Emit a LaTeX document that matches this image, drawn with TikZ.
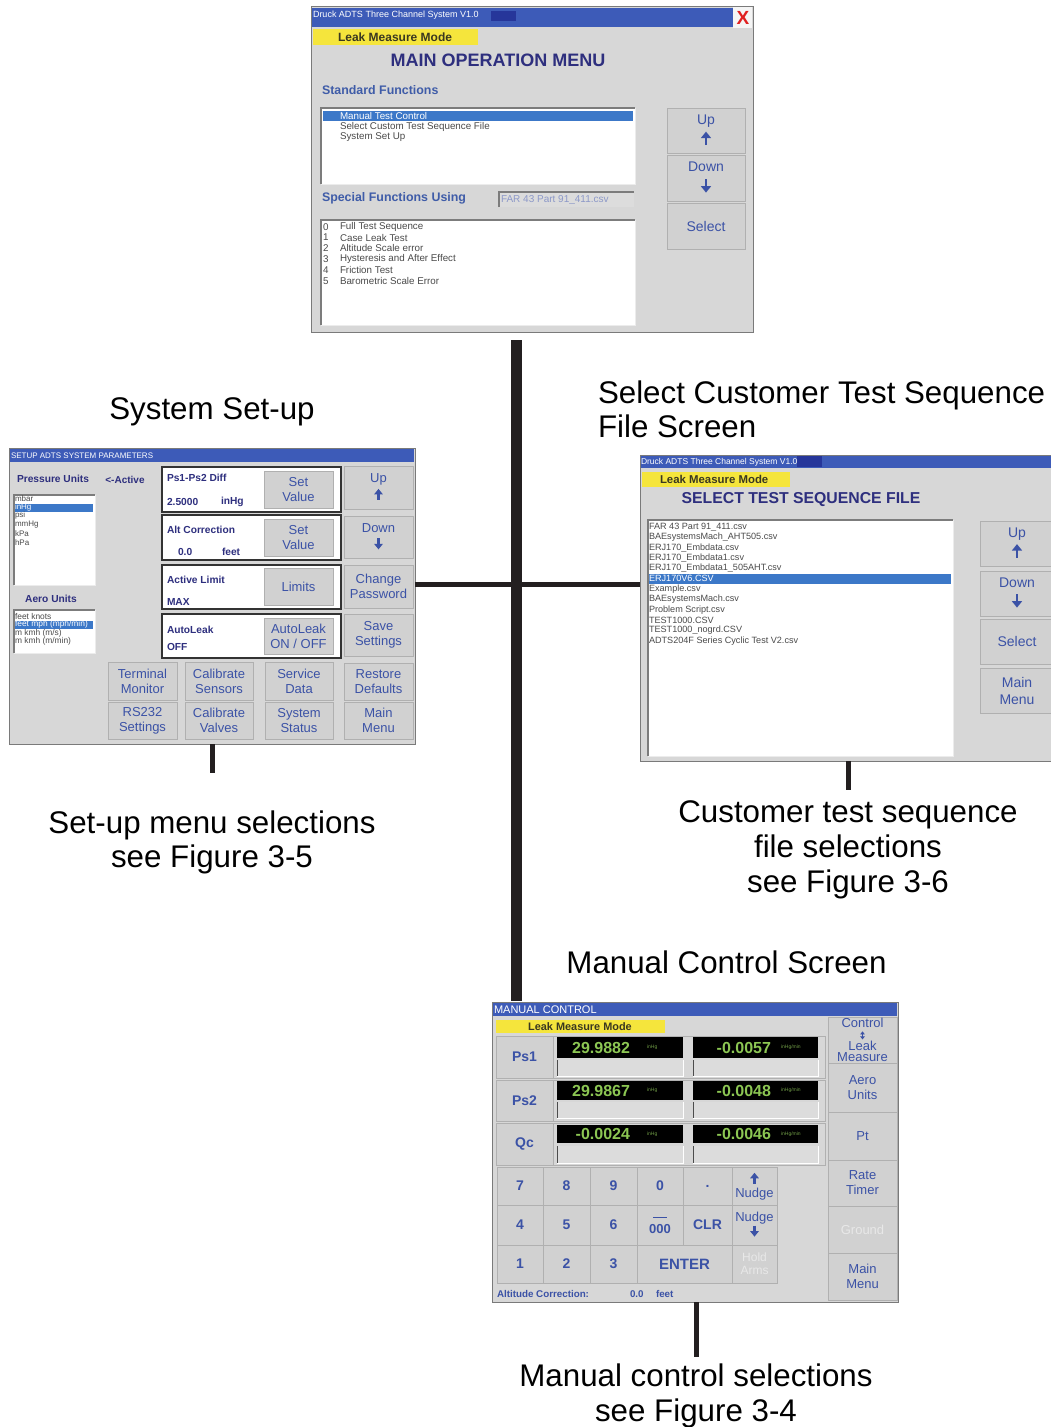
\documentclass[tikz,border=0pt]{standalone}
\usepackage{fontspec}
\setmainfont{Liberation Sans}
\newfontfamily\symf{DejaVu Sans}
\usetikzlibrary{arrows.meta}
\definecolor{scrgray}{HTML}{D7D7D7}
\definecolor{btngray}{HTML}{D1D1D1}
\definecolor{btnedge}{HTML}{B0B0B0}
\definecolor{frameedge}{HTML}{7A7A7A}
\definecolor{tbar}{HTML}{3D5BB8}
\definecolor{tbardark}{HTML}{26369A}
\definecolor{navy}{HTML}{2E2F7E}
\definecolor{uiblue}{HTML}{3B52A6}
\definecolor{subblue}{HTML}{3F5CA8}
\definecolor{ylw}{HTML}{F5E53C}
\definecolor{ylwtxt}{HTML}{3A3820}
\definecolor{selblue}{HTML}{3C78C8}
\definecolor{listtxt}{HTML}{4A4A4A}
\definecolor{lcd}{HTML}{8CC653}
\definecolor{lcddim}{HTML}{6E9A45}
\definecolor{linek}{HTML}{231F20}
\definecolor{dimtxt}{HTML}{E8E8E8}
\definecolor{xred}{HTML}{E02020}
\definecolor{fieldtxt}{HTML}{8C98C8}
\definecolor{inset}{HTML}{7C7C7C}
\definecolor{fieldgray}{HTML}{DCDCDC}
\newcommand{\uarr}{\tikz[x=1pt,y=1pt,baseline=0pt]\draw[uiblue,line width=2.8pt,-{Triangle[width=10pt,length=6.5pt]}] (0,0) -- (0,13.5);}
\newcommand{\darr}{\tikz[x=1pt,y=1pt,baseline=0pt]\draw[uiblue,line width=2.8pt,-{Triangle[width=10pt,length=6.5pt]}] (0,13.5) -- (0,0);}
\newcommand{\sarr}{\tikz[x=1pt,y=1pt,baseline=0pt]\draw[uiblue,line width=2.4pt,-{Triangle[width=8.5pt,length=5.5pt]}] (0,0) -- (0,11);}
\newcommand{\sdarr}{\tikz[x=1pt,y=1pt,baseline=0pt]\draw[uiblue,line width=2.4pt,-{Triangle[width=8.5pt,length=5.5pt]}] (0,11) -- (0,0);}
\newcommand{\udarr}{\tikz[x=1pt,y=1pt,baseline=0pt]\draw[uiblue,line width=1.2pt,{Triangle[width=4.5pt,length=3pt]}-{Triangle[width=4.5pt,length=3pt]}] (0,0) -- (0,8);}
\newcommand{\rbtn}[7][]{\node[btn,minimum width={#4-#2},minimum height={#5-#3},#1] (#6) at ({(#2+#4)/2},{(#3+#5)/2}) {#7};}
\newcommand{\inbox}[4]{\fill[white] (#1,#2) rectangle (#3,#4); \draw[inset,line width=1.2pt] (#1,#4) -- (#1,#2) -- (#3,#2); \draw[white!85!gray] (#3,#2) -- (#3,#4) -- (#1,#4);}
\newcommand{\fld}[4]{\fill[fieldgray] (#1,#2) rectangle (#3,#4); \draw[white,line width=1pt] (#1,#4) -- (#3,#4) -- (#3,#2); \draw[black!70,line width=1pt] (#1,#2) -- (#1,#4);}
\tikzset{
  every node/.style={inner sep=0pt,outer sep=0pt},
  scrframe/.style={draw=frameedge,line width=1pt,fill=scrgray},
  btn/.style={draw=btnedge,line width=0.8pt,fill=btngray,text=uiblue,align=center,font=\fontsize{13}{15}\selectfont},
  ttltxt/.style={anchor=west,text=white,font=\fontsize{9}{9}\selectfont},
  modetxt/.style={text=ylwtxt,font=\bfseries\fontsize{12}{12}\selectfont},
  hdrtxt/.style={text=navy,font=\bfseries\fontsize{18}{18}\selectfont},
  subhd/.style={anchor=west,text=subblue,font=\bfseries\fontsize{12.4}{12.4}\selectfont},
  lsttxt/.style={anchor=west,text=listtxt,font=\fontsize{9.8}{9.8}\selectfont},
  plab/.style={anchor=west,text=navy,font=\bfseries\fontsize{10.2}{10.2}\selectfont},
  captxt/.style={anchor=base,text=black,font=\fontsize{31.3}{31.3}\selectfont},
  trunkln/.style={draw=linek,line width=11pt},
  branchln/.style={draw=linek,line width=5.5pt},
  stubln/.style={draw=linek,line width=5pt},
  lcdtxt/.style={text=lcd,font=\bfseries\fontsize{16}{16}\selectfont},
  unitlbl/.style={anchor=west,text=lcddim,font=\fontsize{5}{5}\selectfont},
  kbtn/.style={btn,font=\bfseries\fontsize{14}{14}\selectfont},
  dimbtn/.style={text=dimtxt},
}
\begin{document}
\begin{tikzpicture}[x=1pt,y=-1pt]
\useasboundingbox (0,0) rectangle (1050,1427);

% ================= MAIN OPERATION MENU =================
\node[scrframe,minimum width=442,minimum height=326] (mainscr) at (532,169) {};
\fill[tbar] (312,8) rectangle (733,27);
\fill[tbardark] (491,10.5) rectangle (516,20.5);
\node[ttltxt] (mainttl) at (313,15) {Druck ADTS Three Channel System V1.0};
\fill[white!92!gray] (733,7) rectangle (752,28);
\node[text=xred,font=\bfseries\fontsize{19}{19}\selectfont] (mainx) at (743,18) {X};
\fill[ylw] (313,29) rectangle (478,45);
\node[modetxt,anchor=west] (mainmode) at (338,37) {Leak Measure Mode};
\node[hdrtxt] (mainhdr) at (498,60) {MAIN OPERATION MENU};
\node[subhd] (stdfn) at (322,90) {Standard Functions};
\inbox{321}{108}{635}{184}
\fill[selblue] (323,111) rectangle (633,120.5);
\node[lsttxt,text=white] (std1) at (340,116) {Manual Test Control};
\node[lsttxt] (std2) at (340,126.8) {Select Custom Test Sequence File};
\node[lsttxt] (std3) at (340,137.5) {System Set Up};
\rbtn[font=\fontsize{14}{21}\selectfont]{667}{108}{745}{153}{mup}{Up\\ \uarr}
\rbtn[font=\fontsize{14}{21}\selectfont]{667}{155}{745}{201}{mdown}{Down\\ \darr}
\rbtn[font=\fontsize{14}{20}\selectfont]{667}{203}{745}{249}{msel}{Select}
\node[subhd] (spfn) at (322,198) {Special Functions Using};
\fill[fieldgray] (499,192) rectangle (634,207);
\draw[inset,line width=1.2pt] (499,207) -- (499,192) -- (634,192);
\node[lsttxt,text=fieldtxt,font=\fontsize{10}{10}\selectfont] (spfile) at (501,199.5) {FAR 43 Part 91\_411.csv};
\inbox{321}{220}{635}{325}
\foreach \t [count=\k from 0] in {Full Test Sequence,Case Leak Test,Altitude Scale error,Hysteresis and After Effect,Friction Test,Barometric Scale Error}{
  \node[lsttxt] (spn\k) at (323,{226.7+10.8*\k}) {\k};
  \node[lsttxt] (spt\k) at (340,{226.7+10.8*\k}) {\t};
}

% ================= SYSTEM SET-UP =================
\node[captxt] (capsetup) at (212,419) {System Set-up};
\node[scrframe,minimum width=406,minimum height=296] (setupscr) at (212,596) {};
\fill[tbar] (10,449) rectangle (414,462);
\node[ttltxt,font=\fontsize{8}{8}\selectfont] (setttl) at (11,455.5) {SETUP ADTS SYSTEM PARAMETERS};
\node[text=navy,font=\bfseries\fontsize{10.2}{10.2}\selectfont] (puhd) at (53,479) {Pressure Units};
\node[text=navy,font=\bfseries\fontsize{10}{10}\selectfont] (acthd) at (125,480) {<-Active};
\inbox{14}{495}{95}{585}
\fill[selblue] (15,504) rectangle (93,512);
\foreach \t [count=\k from 0] in {mbar,inHg,psi,mmHg,kPa,hPa}{
  \ifnum\k=1 \def\tc{white}\else\def\tc{listtxt}\fi
  \node[lsttxt,text=\tc,font=\fontsize{8}{8}\selectfont] (pu\k) at (15,{498.3+8.8*\k}) {\t};
}
\node[text=navy,font=\bfseries\fontsize{10.2}{10.2}\selectfont] (aehd) at (51,599) {Aero Units};
\inbox{14}{610}{95}{653}
\fill[selblue] (15,620.5) rectangle (93,628.5);
\foreach \t [count=\k from 0] in {feet knots,feet mph (mph/min),m kmh (m/s),m kmh (m/min)}{
  \ifnum\k=1 \def\tc{white}\else\def\tc{listtxt}\fi
  \node[lsttxt,text=\tc,font=\fontsize{8.4}{8.4}\selectfont] (au\k) at (15,{616+8.5*\k}) {\t};
}
\foreach \ya/\yb in {467/512,515/560,565/609,614/658}
  \draw[black!80,line width=1.5pt,fill=white] (162,\ya) rectangle (341,\yb);
\node[plab] (pdl) at (167,478) {Ps1-Ps2 Diff};
\node[plab] (pdv) at (167,502) {2.5000};
\node[plab] (pdu) at (221,502) {inHg};
\node[plab] (acl) at (167,530) {Alt Correction};
\node[plab] (acv) at (178,552) {0.0};
\node[plab] (acu) at (222,552) {feet};
\node[plab] (all) at (167,580) {Active Limit};
\node[plab] (alv) at (167,602) {MAX};
\node[plab] (akl) at (167,630) {AutoLeak};
\node[plab] (akv) at (167,647) {OFF};
\rbtn{264}{471}{333}{508}{sv1}{Set\\Value}
\rbtn{264}{519}{333}{556}{sv2}{Set\\Value}
\rbtn{264}{568}{333}{605}{lims}{Limits}
\rbtn{264}{618}{333}{654}{alo}{AutoLeak\\ON / OFF}
\rbtn[font=\fontsize{13}{17}\selectfont]{344}{466}{413}{509}{sup}{Up\\ \sarr}
\rbtn[font=\fontsize{13}{17}\selectfont]{344}{516}{413}{558}{sdown}{Down\\ \sdarr}
\rbtn{344}{565}{413}{608}{spw}{Change\\Password}
\rbtn{344}{614}{413}{656}{ssave}{Save\\Settings}
\rbtn{344}{663}{413}{700}{srest}{Restore\\Defaults}
\rbtn{344}{702}{413}{739}{smain}{Main\\Menu}
\rbtn{108}{662}{177}{700}{sterm}{Terminal\\Monitor}
\rbtn{108}{702}{177}{739}{srs}{RS232\\Settings}
\rbtn{185}{662}{253}{700}{scals}{Calibrate\\Sensors}
\rbtn{185}{702}{253}{739}{scalv}{Calibrate\\Valves}
\rbtn{265}{662}{333}{700}{sserv}{Service\\Data}
\rbtn{265}{702}{333}{739}{sstat}{System\\Status}
\coordinate (setupend) at (212,773);
\draw[stubln] (setupscr.south) -- (setupend);
\node[captxt] (capsetA) at (212,833) {Set-up menu selections};
\node[captxt] (capsetB) at (212,867) {see Figure 3-5};

% ================= SELECT TEST SEQUENCE FILE =================
\node[captxt,anchor=base west] (capselA) at (598,403) {Select Customer Test Sequence};
\node[captxt,anchor=base west] (capselB) at (598,437) {File Screen};
\node[scrframe,minimum width=412,minimum height=306] (selscr) at (846,608) {};
\fill[tbar] (641,456) rectangle (1052,468);
\fill[tbardark] (797,456) rectangle (822,467);
\node[ttltxt,font=\fontsize{8.5}{8.5}\selectfont] (selttl) at (641,462) {Druck ADTS Three Channel System V1.0};
\fill[ylw] (642,472) rectangle (790,487);
\node[modetxt,anchor=west,font=\bfseries\fontsize{11.4}{11.4}\selectfont] (selmode) at (660,479.5) {Leak Measure Mode};
\node[hdrtxt,font=\bfseries\fontsize{15.8}{15.8}\selectfont] (selhdr) at (801,500) {SELECT TEST SEQUENCE FILE};
\inbox{648}{520}{953}{756}
\fill[selblue] (649,574) rectangle (951,583.5);
\foreach \t [count=\k from 0] in {FAR 43 Part 91\_411.csv,BAEsystemsMach\_AHT505.csv,ERJ170\_Embdata.csv,ERJ170\_Embdata1.csv,ERJ170\_Embdata1\_505AHT.csv,ERJ170V6.CSV,Example.csv,BAEsystemsMach.csv,Problem Script.csv,TEST1000.CSV,TEST1000\_nogrd.CSV,ADTS204F Series Cyclic Test V2.csv}{
  \ifnum\k=5 \def\tc{white}\else\def\tc{listtxt}\fi
  \node[lsttxt,text=\tc,font=\fontsize{9.1}{9.1}\selectfont] (sf\k) at (649,{527+10.35*\k}) {\t};
}
\rbtn[font=\fontsize{14}{20}\selectfont]{980}{521}{1054}{566}{fup}{Up\\ \uarr}
\rbtn[font=\fontsize{14}{20}\selectfont]{980}{571}{1054}{616}{fdown}{Down\\ \darr}
\rbtn[font=\fontsize{14}{19}\selectfont]{980}{619}{1054}{664}{fsel}{Select}
\rbtn[font=\fontsize{14}{17}\selectfont]{980}{668}{1054}{713}{fmain}{Main\\Menu}
\coordinate (selend) at (848,790);
\draw[stubln] (selscr.south -| selend) -- (selend);
\node[captxt] (capfA) at (848,822) {Customer test sequence};
\node[captxt] (capfB) at (848,857) {file selections};
\node[captxt] (capfC) at (848,892) {see Figure 3-6};

% ================= MANUAL CONTROL =================
\node[captxt] (capman) at (726.5,973) {Manual Control Screen};
\node[scrframe,minimum width=406,minimum height=300] (manscr) at (695,1152) {};
\fill[tbar] (493,1003) rectangle (897,1016);
\node[ttltxt,font=\fontsize{11}{11}\selectfont] (manttl) at (494,1009.5) {MANUAL CONTROL};
\fill[ylw] (496,1020) rectangle (665,1033);
\node[modetxt,font=\bfseries\fontsize{10.9}{10.9}\selectfont] (manmode) at (580,1026.5) {Leak Measure Mode};
\foreach \lab/\ya/\yb/\da/\db/\fa/\fb/\va/\vb/\ra in {Ps1/1036/1078/1037/1058/1060/1076/29.9882/-0.0057/1,Ps2/1080/1121/1081/1100/1102/1118/29.9867/-0.0048/2,Qc/1123/1165/1125/1143/1146/1163/-0.0024/-0.0046/3}{
  \draw[btnedge,fill=scrgray] (553,\ya) rectangle (825,\yb);
  \rbtn[font=\bfseries\fontsize{14}{14}\selectfont]{496}{\ya}{553}{\yb}{row\ra}{\lab}
  \fill[black] (557,\da) rectangle (683,\db);
  \fill[black] (693,\da) rectangle (818,\db);
  \fld{557}{\fa}{683}{\fb}
  \fld{693}{\fa}{818}{\fb}
  \node[lcdtxt,anchor=east] (lv\ra) at (630,{(\da+\db)/2}) {\va};
  \node[unitlbl] (lu\ra) at (647,{(\da+\db)/2}) {inHg};
  \node[lcdtxt,anchor=east] (rv\ra) at (771,{(\da+\db)/2}) {\vb};
  \node[unitlbl] (ru\ra) at (781,{(\da+\db)/2}) {inHg/min};
}
\rbtn[font=\fontsize{13}{10.5}\selectfont]{828}{1017}{897}{1063}{mctl}{Control\\[1pt]\udarr\\[1pt]Leak\\Measure}
\rbtn{828}{1063}{897}{1112}{maero}{Aero\\Units}
\rbtn{828}{1112}{897}{1160}{mpt}{Pt}
\rbtn{828}{1160}{897}{1206}{mrate}{Rate\\Timer}
\rbtn[dimbtn]{828}{1206}{897}{1253}{mgnd}{Ground}
\rbtn{828}{1253}{897}{1300}{mmain}{Main\\Menu}
% keypad
\rbtn[kbtn]{497}{1167}{543}{1205}{k7}{7}
\rbtn[kbtn]{543}{1167}{590}{1205}{k8}{8}
\rbtn[kbtn]{590}{1167}{637}{1205}{k9}{9}
\rbtn[kbtn]{637}{1167}{683}{1205}{k0}{0}
\rbtn[kbtn]{683}{1167}{732}{1205}{kdot}{.}
\rbtn[font=\fontsize{13}{14}\selectfont]{732}{1167}{777}{1205}{knup}{\sarr\\Nudge}
\rbtn[kbtn]{497}{1205}{543}{1245}{k4}{4}
\rbtn[kbtn]{543}{1205}{590}{1245}{k5}{5}
\rbtn[kbtn]{590}{1205}{637}{1245}{k6}{6}
\rbtn[kbtn,font=\bfseries\fontsize{13}{13}\selectfont]{637}{1205}{683}{1245}{k000}{\rule{14pt}{1.6pt}\\[2pt]000}
\rbtn[kbtn]{683}{1205}{732}{1245}{kclr}{CLR}
\rbtn[font=\fontsize{13}{15}\selectfont]{732}{1205}{777}{1245}{kndn}{Nudge\\ \sdarr}
\rbtn[kbtn]{497}{1245}{543}{1283}{k1}{1}
\rbtn[kbtn]{543}{1245}{590}{1283}{k2}{2}
\rbtn[kbtn]{590}{1245}{637}{1283}{k3}{3}
\rbtn[kbtn,font=\bfseries\fontsize{15}{15}\selectfont]{637}{1245}{732}{1283}{kent}{ENTER}
\rbtn[dimbtn,font=\fontsize{12}{13}\selectfont]{732}{1245}{777}{1283}{khold}{Hold\\Arms}
\node[plab,font=\bfseries\fontsize{9.8}{9.8}\selectfont,text=uiblue] (altc) at (497,1294) {Altitude Correction:};
\node[plab,font=\bfseries\fontsize{9.8}{9.8}\selectfont,text=uiblue] (altv) at (630,1294) {0.0};
\node[plab,font=\bfseries\fontsize{9.8}{9.8}\selectfont,text=uiblue] (altu) at (656,1294) {feet};
\coordinate (manend) at (696,1357);
\draw[stubln] (manscr.south -| manend) -- (manend);
\node[captxt] (capmA) at (696,1386) {Manual control selections};
\node[captxt] (capmB) at (696,1421) {see Figure 3-4};

% ================= CONNECTORS =================
\coordinate (trunktop) at (516.5,340);
\coordinate (trunkbot) at (516.5,1001);
\draw[trunkln] (trunktop) -- (trunkbot);
\coordinate (hy) at (0,584.5);
\draw[branchln] (setupscr.east |- hy) -- (selscr.west |- hy);
\end{tikzpicture}
\end{document}
